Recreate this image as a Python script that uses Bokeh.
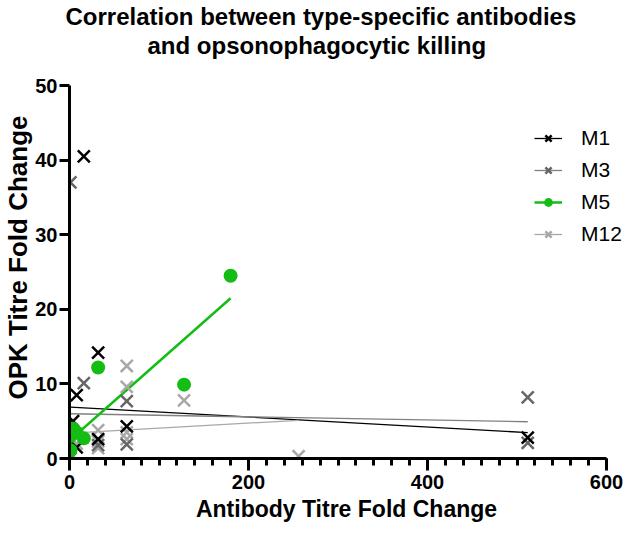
from bokeh.plotting import figure
from bokeh.models import Range1d, FixedTicker, Legend, LegendItem, Title
from bokeh.embed import file_html
from bokeh.resources import INLINE

# ---------------- data ----------------
title_line1 = "Correlation between type-specific antibodies"
title_line2 = "and opsonophagocytic killing"
x_label = "Antibody Titre Fold Change"
y_label = "OPK Titre Fold Change"

series_names = ["M1", "M3", "M5", "M12"]

m1_x = [1, 4, 8, 8, 16, 32, 32, 64, 512]
m1_y = [0.3, 5.0, 8.5, 1.5, 40.5, 14.2, 2.6, 4.3, 2.8]

m3_x = [1, 1, 16, 32, 64, 64, 512, 512]
m3_y = [0.0, 37.0, 10.1, 1.8, 7.7, 1.9, 8.2, 2.1]

m5_x = [1, 1, 4, 8, 16, 32, 128, 180]
m5_y = [1.1, 3.0, 4.0, 3.5, 2.7, 12.2, 9.9, 24.5]

m12_x = [2, 8, 32, 32, 32, 64, 64, 64, 64, 128, 256]
m12_y = [0.5, 2.0, 3.8, 2.3, 1.4, 12.4, 9.6, 3.5, 2.6, 7.8, 0.3]

# linear-regression lines (slope, intercept)
fit_slope = [-0.0067, -0.0021, 0.106, 0.0067]
fit_intercept = [6.9, 6.0, 2.4, 3.4]

x_ticks = [0, 200, 400, 600]
x_minor_ticks = [0, 20, 40, 60, 80, 100, 120, 140, 160, 180, 200, 220, 240, 260, 280,
                 300, 320, 340, 360, 380, 400, 420, 440, 460, 480, 500, 520, 540, 560, 580, 600]
y_ticks = [0, 10, 20, 30, 40, 50]

# ---------------- figure ----------------
FONT = "Liberation Sans"
W, H = 623, 526
LEFT, TOP, BOTTOM = 69, 85, 68
AXIS_END_PX = 606                      # pixel where x = 600 sits
X_END = 600 * (W - LEFT) / (AXIS_END_PX - LEFT)

p = figure(width=W, height=H, output_backend="svg", toolbar_location=None, title=None,
           x_range=Range1d(0, X_END), y_range=Range1d(0, 50),
           min_border_left=LEFT, min_border_right=0, min_border_top=TOP,
           min_border_bottom=BOTTOM)
p.outline_line_color = None
p.grid.grid_line_color = None
p.background_fill_color = "white"
p.border_fill_color = "white"

for ax in (p.xaxis, p.yaxis):
    ax.axis_line_width = 3
    ax.axis_line_color = "black"
    ax.major_tick_line_width = 3
    ax.major_tick_line_color = "black"
    ax.major_tick_in = 0
    ax.major_label_text_font = FONT
    ax.major_label_text_font_style = "bold"
    ax.major_label_text_font_size = "20px"
    ax.major_label_text_color = "black"
    ax.axis_label_text_font = FONT
    ax.axis_label_text_font_style = "bold"
    ax.axis_label_text_color = "black"

p.xaxis.bounds = (0, 600)
p.xaxis.ticker = FixedTicker(ticks=x_ticks, minor_ticks=x_minor_ticks)
p.xaxis.major_tick_out = 12
p.xaxis.minor_tick_out = 7
p.xaxis.minor_tick_in = 0
p.xaxis.minor_tick_line_width = 3
p.xaxis.minor_tick_line_color = "black"
p.xaxis.major_label_standoff = 4
p.xaxis.axis_label = x_label
p.xaxis.axis_label_text_font_size = "23px"
p.xaxis.axis_label_standoff = 4

p.yaxis.ticker = FixedTicker(ticks=y_ticks)
p.yaxis.major_tick_out = 10
p.yaxis.minor_tick_line_color = None
p.yaxis.major_label_standoff = 2

colors = {"M1": "#000000", "M3": "#666666", "M5": "#14bd14", "M12": "#a8a8a8"}
line_colors = {"M1": "#000000", "M3": "#808080", "M5": "#14bd14", "M12": "#a8a8a8"}
data = {"M1": (m1_x, m1_y), "M3": (m3_x, m3_y), "M5": (m5_x, m5_y), "M12": (m12_x, m12_y)}

renderers = {}
for i, name in enumerate(series_names):
    xs, ys = data[name]
    x0, x1 = min(xs), max(xs)
    lw = 2.5 if name == "M5" else 1.3
    ln = p.line([x0, x1], [fit_intercept[i] + fit_slope[i] * x0, fit_intercept[i] + fit_slope[i] * x1],
                line_color=line_colors[name], line_width=lw)
    renderers[name] = [ln]

for name in ["M12", "M3", "M1"]:
    xs, ys = data[name]
    sc = p.scatter(xs, ys, marker="x", size=17, line_width=2.5, line_color=colors[name])
    renderers[name].append(sc)

sc5 = p.scatter(m5_x, m5_y, marker="circle", size=14, fill_color=colors["M5"],
                line_color=colors["M5"], line_width=0)
renderers["M5"].append(sc5)

legend = Legend(items=[LegendItem(label=n, renderers=renderers[n]) for n in series_names],
                location=(465, 212), orientation="vertical",
                label_text_font=FONT, label_text_font_size="21px", label_text_color="black",
                glyph_width=28, glyph_height=22, label_standoff=19, spacing=8,
                padding=0, margin=0, border_line_color=None, background_fill_alpha=0)
p.add_layout(legend)

# y-axis title as a side title (lets it sit where the reference has it)
ytitle = Title(text=y_label, align="right", offset=30, standoff=0, text_line_height=1.0,
               text_font=FONT, text_font_style="bold", text_font_size="26px", text_color="black")
p.add_layout(ytitle, "left")

# two-line title; an invisible spacer keeps it off the plot
spacer = Title(text=" ", text_font_size="1px", standoff=24, text_color="white")
t2 = Title(text=title_line2, align="left", offset=78, standoff=0, text_line_height=1.0,
           text_font=FONT, text_font_style="bold", text_font_size="24px", text_color="black")
t1 = Title(text=title_line1, align="left", offset=-4, standoff=0, text_line_height=1.0,
           text_font=FONT, text_font_style="bold", text_font_size="24px", text_color="black")
p.add_layout(spacer, "above")
p.add_layout(t2, "above")
p.add_layout(t1, "above")

open("out.html", "w").write(file_html(p, INLINE))
